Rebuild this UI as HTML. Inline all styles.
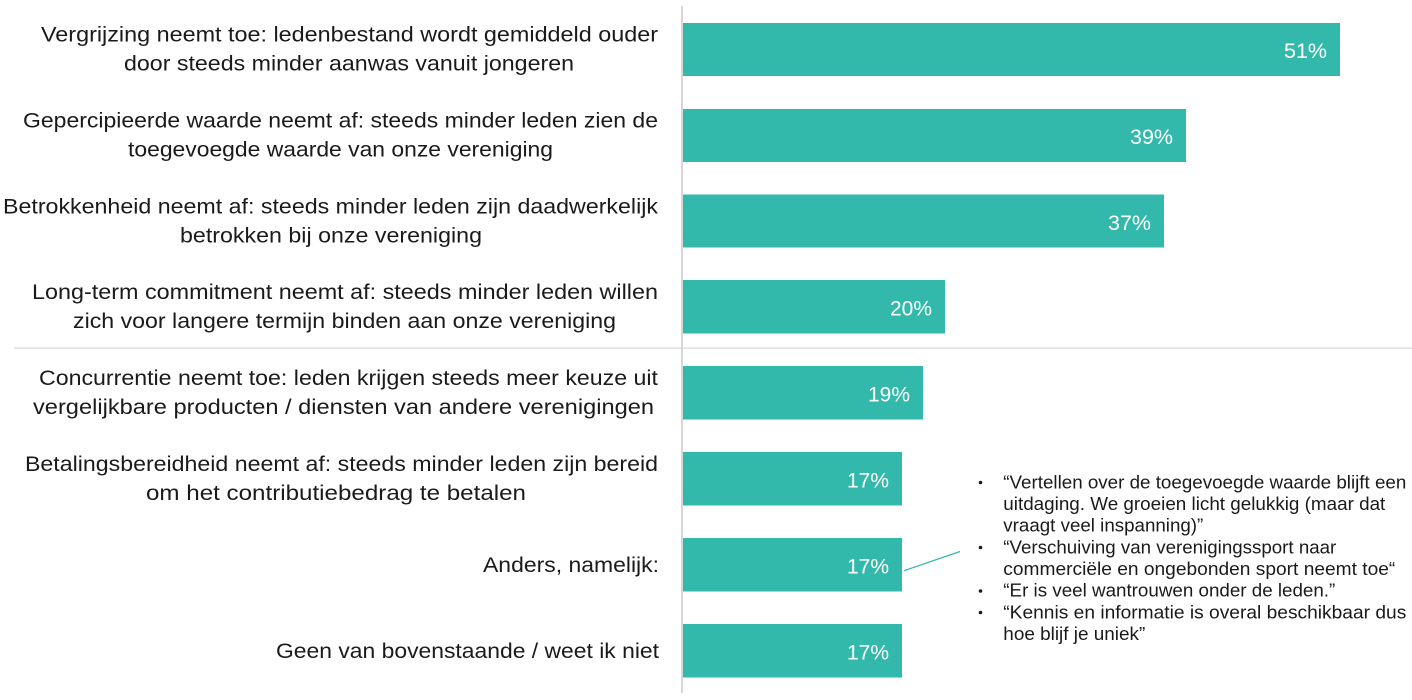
<!DOCTYPE html>
<html>
<head>
<meta charset="utf-8">
<style>
  html, body { margin:0; padding:0; background:#ffffff; }
  body { width:1412px; height:700px; overflow:hidden; }
  svg { display:block; }
  .lab { font-family:"Liberation Sans", sans-serif; font-size:21px; fill:#1a1a1a; }
  .pct { font-family:"Liberation Sans", sans-serif; font-size:21.5px; fill:#ffffff; text-anchor:end; }
  .ann { font-family:"Liberation Sans", sans-serif; font-size:18px; fill:#1a1a1a; }
</style>
</head>
<body>
<svg width="1412" height="700" viewBox="0 0 1412 700" xmlns="http://www.w3.org/2000/svg">
  <rect x="0" y="0" width="1412" height="700" fill="#ffffff"/>

  <!-- axis & separator -->
  <rect x="681" y="6" width="2" height="687" fill="#d6d6d6"/>
  <rect x="14" y="347.5" width="1398" height="1.3" fill="#d9d9d9"/>

  <!-- bars -->
  <g fill="#32b9ab">
    <rect x="683" y="23" width="657" height="53"/>
    <rect x="683" y="109" width="503" height="53"/>
    <rect x="683" y="194.5" width="481" height="53"/>
    <rect x="683" y="280" width="262" height="53.5"/>
    <rect x="683" y="366" width="240" height="53.5"/>
    <rect x="683" y="452" width="219" height="53.5"/>
    <rect x="683" y="538" width="219" height="53.5"/>
    <rect x="683" y="624" width="219" height="53.5"/>
  </g>

  <!-- value labels -->
  <text class="pct" x="1327" y="58" textLength="43" lengthAdjust="spacingAndGlyphs">51%</text>
  <text class="pct" x="1173" y="144" textLength="43" lengthAdjust="spacingAndGlyphs">39%</text>
  <text class="pct" x="1151" y="230" textLength="43" lengthAdjust="spacingAndGlyphs">37%</text>
  <text class="pct" x="932" y="315.7" textLength="42" lengthAdjust="spacingAndGlyphs">20%</text>
  <text class="pct" x="910" y="401.5" textLength="42" lengthAdjust="spacingAndGlyphs">19%</text>
  <text class="pct" x="889" y="487.5" textLength="42" lengthAdjust="spacingAndGlyphs">17%</text>
  <text class="pct" x="889" y="573.5" textLength="42" lengthAdjust="spacingAndGlyphs">17%</text>
  <text class="pct" x="889" y="659.5" textLength="42" lengthAdjust="spacingAndGlyphs">17%</text>

  <!-- category labels -->
  <text class="lab" x="41" y="41.7" textLength="617" lengthAdjust="spacingAndGlyphs">Vergrijzing neemt toe: ledenbestand wordt gemiddeld ouder</text>
  <text class="lab" x="124" y="70.4" textLength="450" lengthAdjust="spacingAndGlyphs">door steeds minder aanwas vanuit jongeren</text>

  <text class="lab" x="23" y="127.7" textLength="635" lengthAdjust="spacingAndGlyphs">Gepercipieerde waarde neemt af: steeds minder leden zien de</text>
  <text class="lab" x="128" y="156.4" textLength="425" lengthAdjust="spacingAndGlyphs">toegevoegde waarde van onze vereniging</text>

  <text class="lab" x="3" y="213.7" textLength="655" lengthAdjust="spacingAndGlyphs">Betrokkenheid neemt af: steeds minder leden zijn daadwerkelijk</text>
  <text class="lab" x="180" y="242.4" textLength="302" lengthAdjust="spacingAndGlyphs">betrokken bij onze vereniging</text>

  <text class="lab" x="32" y="299.2" textLength="626" lengthAdjust="spacingAndGlyphs">Long-term commitment neemt af: steeds minder leden willen</text>
  <text class="lab" x="73" y="327.9" textLength="543" lengthAdjust="spacingAndGlyphs">zich voor langere termijn binden aan onze vereniging</text>

  <text class="lab" x="39" y="385.2" textLength="619" lengthAdjust="spacingAndGlyphs">Concurrentie neemt toe: leden krijgen steeds meer keuze uit</text>
  <text class="lab" x="33" y="413.9" textLength="621" lengthAdjust="spacingAndGlyphs">vergelijkbare producten / diensten van andere verenigingen</text>

  <text class="lab" x="25" y="471.2" textLength="633" lengthAdjust="spacingAndGlyphs">Betalingsbereidheid neemt af: steeds minder leden zijn bereid</text>
  <text class="lab" x="146" y="499.9" textLength="380" lengthAdjust="spacingAndGlyphs">om het contributiebedrag te betalen</text>

  <text class="lab" x="483" y="571.8" textLength="176" lengthAdjust="spacingAndGlyphs">Anders, namelijk:</text>

  <text class="lab" x="276" y="657.8" textLength="383" lengthAdjust="spacingAndGlyphs">Geen van bovenstaande / weet ik niet</text>

  <!-- connector -->
  <line x1="904" y1="570.7" x2="960" y2="551.5" stroke="#32b9ab" stroke-width="1.2"/>

  <!-- annotation bullets -->
  <g fill="#1a1a1a">
    <circle cx="980.5" cy="482.5" r="1.8"/>
    <circle cx="980.5" cy="547.5" r="1.8"/>
    <circle cx="980.5" cy="591" r="1.8"/>
    <circle cx="980.5" cy="612.5" r="1.8"/>
  </g>
  <text class="ann" x="1003.3" y="488.3" textLength="403" lengthAdjust="spacingAndGlyphs">“Vertellen over de toegevoegde waarde blijft een</text>
  <text class="ann" x="1003.3" y="510" textLength="382" lengthAdjust="spacingAndGlyphs">uitdaging. We groeien licht gelukkig (maar dat</text>
  <text class="ann" x="1003.3" y="531.7" textLength="200" lengthAdjust="spacingAndGlyphs">vraagt veel inspanning)”</text>
  <text class="ann" x="1003.3" y="553.3" textLength="333" lengthAdjust="spacingAndGlyphs">“Verschuiving van verenigingssport naar</text>
  <text class="ann" x="1003.3" y="575" textLength="392" lengthAdjust="spacingAndGlyphs">commerciële en ongebonden sport neemt toe“</text>
  <text class="ann" x="1003.3" y="596.7" textLength="332" lengthAdjust="spacingAndGlyphs">“Er is veel wantrouwen onder de leden.”</text>
  <text class="ann" x="1003.3" y="618.3" textLength="403" lengthAdjust="spacingAndGlyphs">“Kennis en informatie is overal beschikbaar dus</text>
  <text class="ann" x="1003.3" y="640" textLength="142" lengthAdjust="spacingAndGlyphs">hoe blijf je uniek”</text>
</svg>
</body>
</html>
